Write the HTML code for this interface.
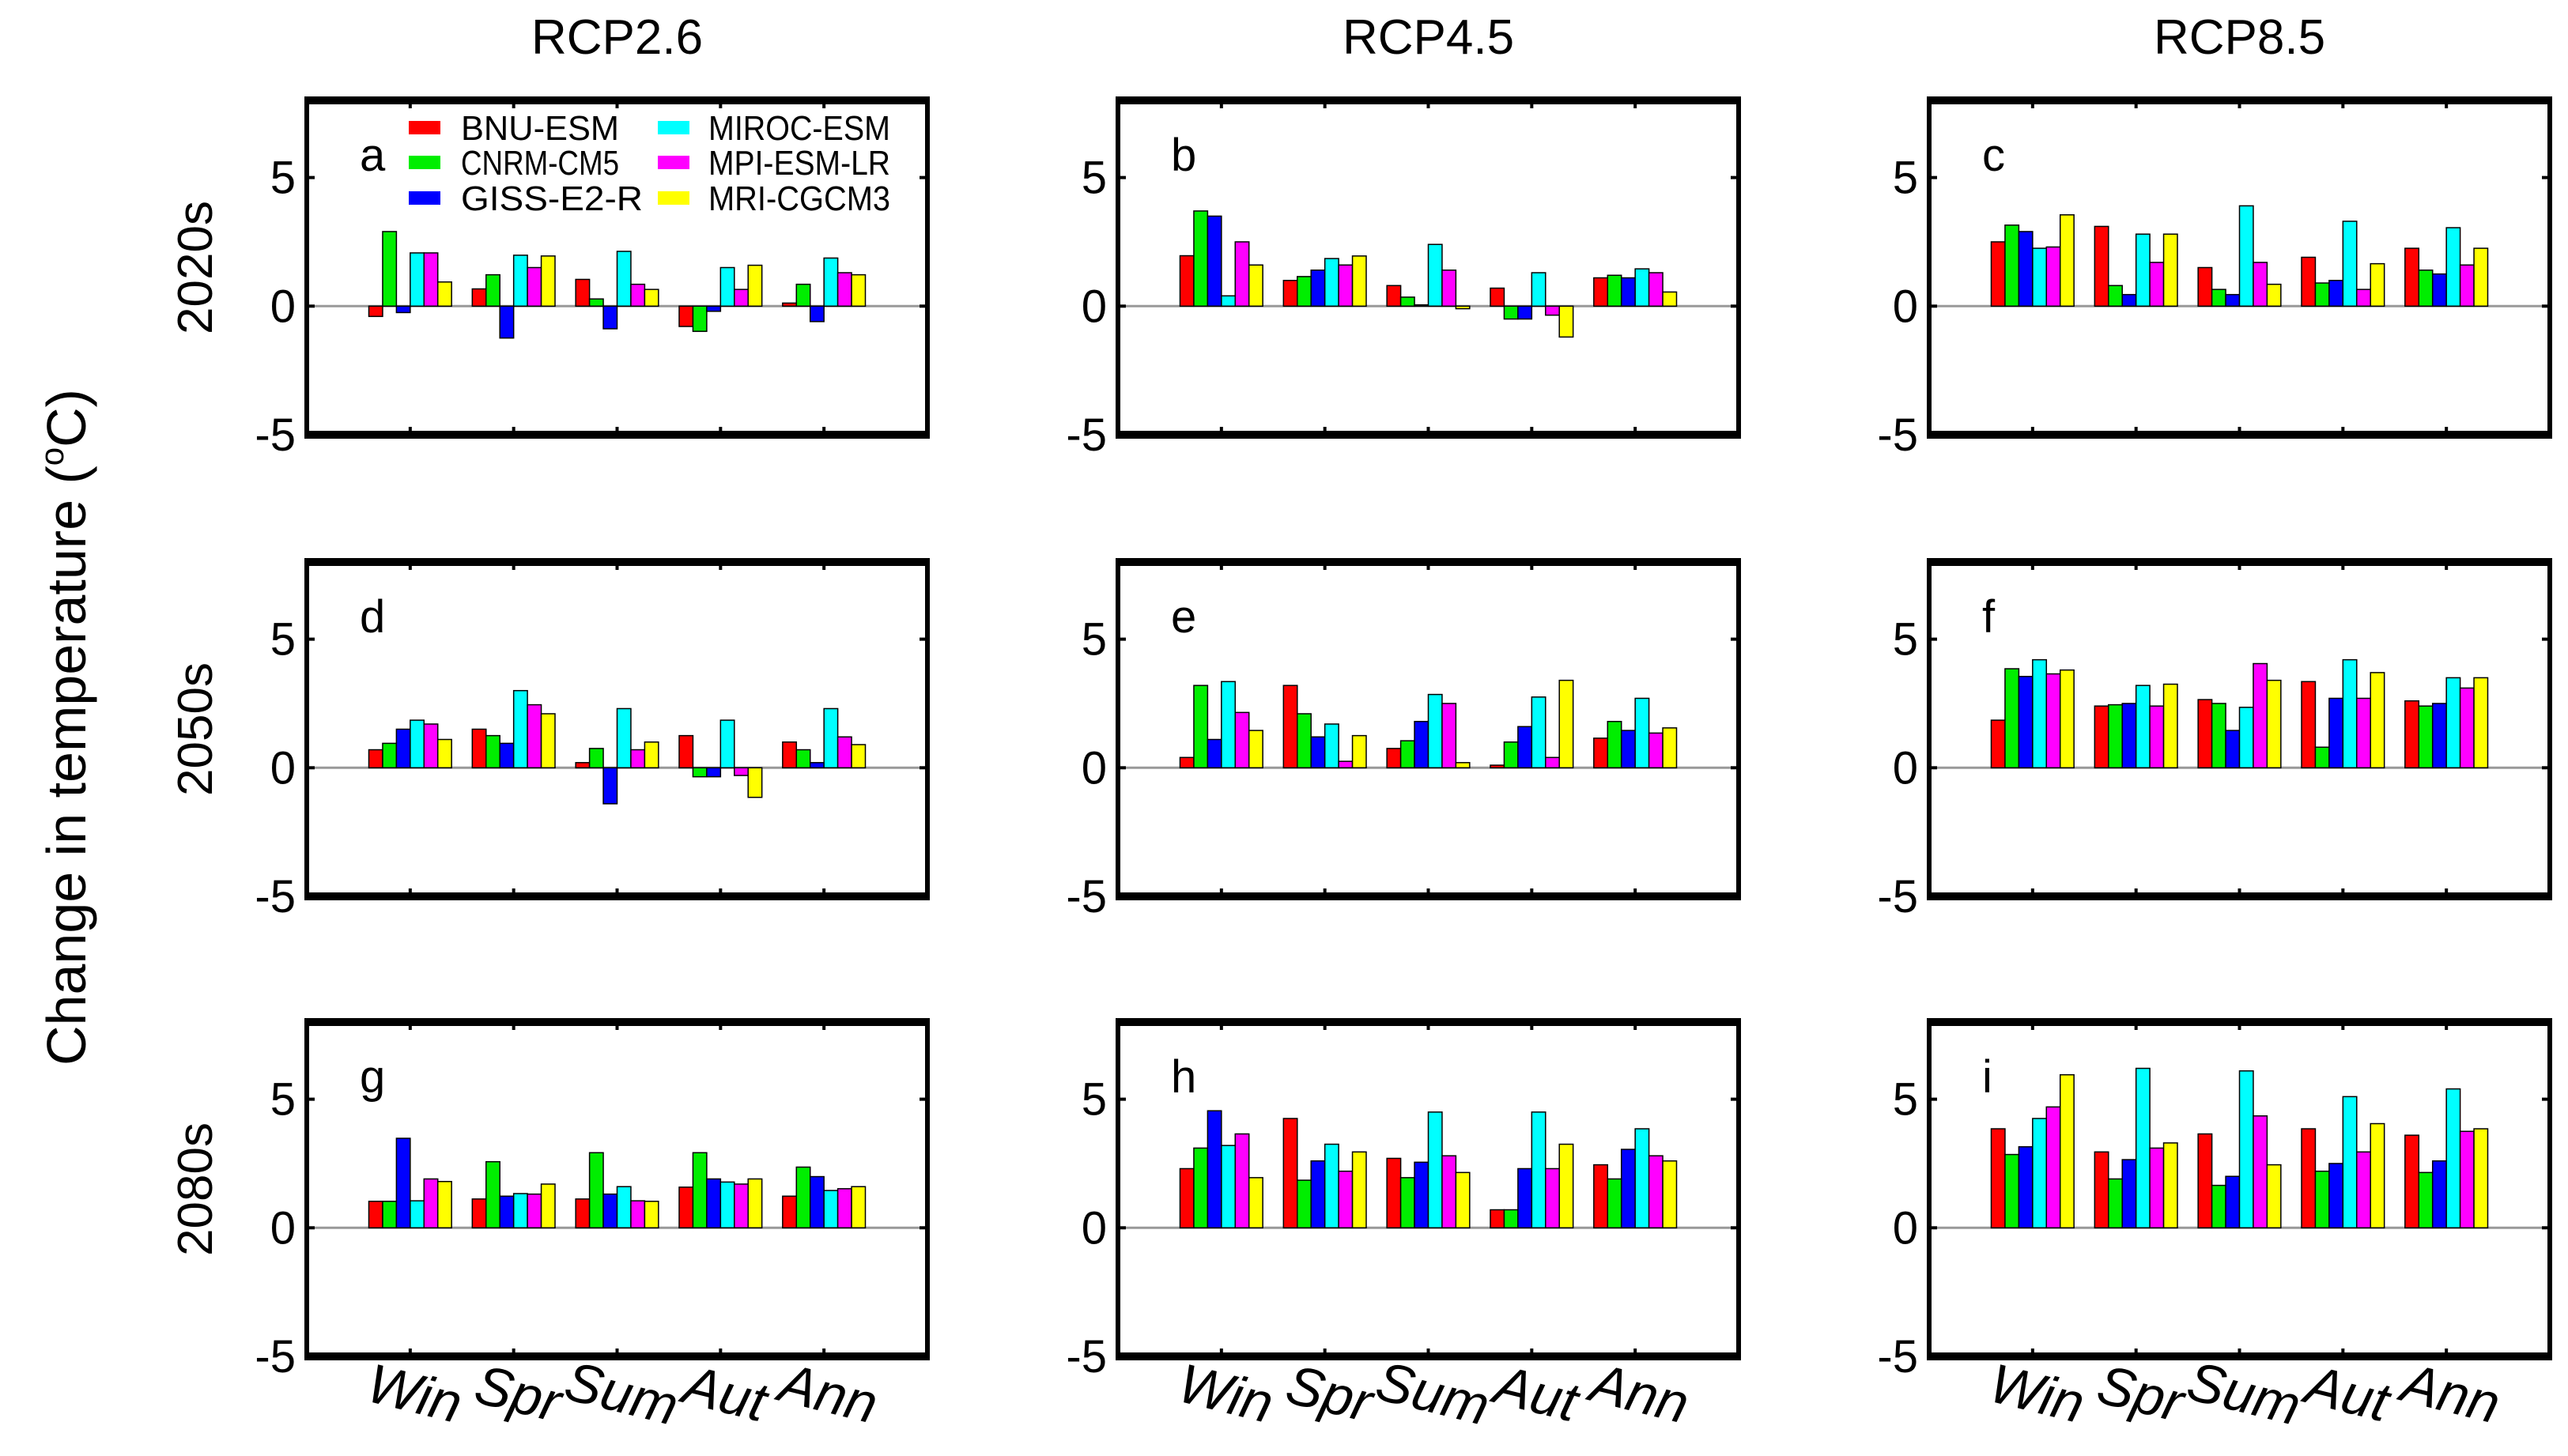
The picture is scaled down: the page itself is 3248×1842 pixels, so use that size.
<!DOCTYPE html>
<html><head><meta charset="utf-8"><style>
html,body{margin:0;padding:0;background:#fff;}
svg text{font-family:"Liberation Sans",sans-serif;}
</style></head><body>
<svg id="chart" width="3248" height="1837" viewBox="0 0 3248 1837" xmlns="http://www.w3.org/2000/svg">
<text x="0" y="0" transform="translate(108,920) rotate(-90)" text-anchor="middle" font-size="70">Change in temperature (<tspan font-size="42" dy="-28">o</tspan><tspan dy="28">C)</tspan></text>
<g id="panels"></g>
</svg>
<script>
const scenarios = ["RCP2.6","RCP4.5","RCP8.5"];
const periods = ["2020s","2050s","2080s"];
const seasons = ["Win","Spr","Sum","Aut","Ann"];
const models = ["BNU-ESM","CNRM-CM5","GISS-E2-R","MIROC-ESM","MPI-ESM-LR","MRI-CGCM3"];
const modelColors = ["#ff0000","#00ee00","#0000ff","#00ffff","#ff00ff","#ffff00"];
const yTicks = [5,0,-5];
const panelLetters = ["a","b","c","d","e","f","g","h","i"];
// values[season][model] per panel
const panelA = [[-0.4,2.9,-0.25,2.07,2.07,0.94],[0.67,1.22,-1.24,1.98,1.5,1.95],[1.04,0.28,-0.88,2.13,0.85,0.65],[-0.79,-0.98,-0.2,1.5,0.65,1.59],[0.12,0.85,-0.6,1.87,1.3,1.22]];
const panelB = [[1.96,3.7,3.5,0.4,2.5,1.6],[1.0,1.15,1.4,1.85,1.6,1.95],[0.8,0.35,0.05,2.4,1.4,-0.1],[0.7,-0.5,-0.5,1.3,-0.35,-1.2],[1.1,1.2,1.1,1.45,1.3,0.55]];
const panelC = [[2.5,3.15,2.9,2.25,2.3,3.55],[3.1,0.8,0.45,2.8,1.7,2.8],[1.5,0.65,0.45,3.9,1.7,0.85],[1.9,0.9,1.0,3.3,0.65,1.65],[2.25,1.4,1.25,3.05,1.6,2.25]];
const panelD = [[0.7,0.95,1.5,1.85,1.7,1.1],[1.5,1.25,0.95,3.0,2.45,2.1],[0.2,0.75,-1.4,2.3,0.7,1.0],[1.25,-0.35,-0.35,1.85,-0.3,-1.15],[1.0,0.7,0.2,2.3,1.2,0.9]];
const panelE = [[0.4,3.2,1.1,3.35,2.15,1.45],[3.2,2.1,1.2,1.7,0.25,1.25],[0.75,1.05,1.8,2.85,2.5,0.2],[0.1,1.0,1.6,2.75,0.4,3.4],[1.15,1.8,1.45,2.7,1.35,1.55]];
const panelF = [[1.85,3.85,3.55,4.2,3.65,3.8],[2.4,2.45,2.5,3.2,2.4,3.25],[2.65,2.5,1.45,2.35,4.05,3.4],[3.35,0.8,2.7,4.2,2.7,3.7],[2.6,2.4,2.5,3.5,3.1,3.5]];
const panelG = [[1.03,1.03,3.48,1.05,1.9,1.8],[1.12,2.57,1.23,1.33,1.31,1.7],[1.12,2.92,1.31,1.6,1.05,1.03],[1.58,2.92,1.9,1.78,1.7,1.9],[1.23,2.36,1.99,1.45,1.52,1.6]];
const panelH = [[2.3,3.1,4.55,3.2,3.65,1.95],[4.25,1.85,2.6,3.25,2.2,2.95],[2.7,1.95,2.55,4.5,2.8,2.15],[0.7,0.7,2.3,4.5,2.3,3.25],[2.45,1.9,3.05,3.85,2.8,2.6]];
const panelI = [[3.85,2.85,3.15,4.25,4.7,5.95],[2.95,1.9,2.65,6.2,3.1,3.3],[3.65,1.65,2.0,6.1,4.35,2.45],[3.85,2.2,2.5,5.1,2.95,4.05],[3.6,2.15,2.6,5.4,3.75,3.85]];
const panelData = [panelA,panelB,panelC,panelD,panelE,panelF,panelG,panelH,panelI];

const NS="http://www.w3.org/2000/svg";
const root=document.getElementById('panels');
const colLeft=[388,1414,2440], rowTop=[127,711,1293], PW=785, PH=423;
const yMin=-5,yMax=8,xMin=0,xMax=6;
function mk(tag,attrs,parent){const e=document.createElementNS(NS,tag);for(const k in attrs)e.setAttribute(k,attrs[k]);(parent||root).appendChild(e);return e;}

scenarios.forEach((s,c)=>{
  const t=mk('text',{x:colLeft[c]+PW/2,y:68,'text-anchor':'middle','font-size':62});
  
  
  t.textContent=s;
});
periods.forEach((p,r)=>{
  const cy=rowTop[r]+PH/2;
  const t=mk('text',{x:0,y:0,transform:`translate(268,${cy}) rotate(-90)`,'text-anchor':'middle','font-size':62});
  
  
  t.textContent=p;
});

for(let r=0;r<3;r++)for(let c=0;c<3;c++){
  const idx=r*3+c, L=colLeft[c], T=rowTop[r];
  const xs=v=>L+(v-xMin)/(xMax-xMin)*PW;
  const ys=v=>T+(yMax-v)/(yMax-yMin)*PH;
  const g=mk('g',{});
  
  
  // zero line
  const z=mk('line',{x1:L,x2:L+PW,y1:ys(0),y2:ys(0),stroke:'#999','stroke-width':3},g);
  
  
  // bars
  const gw=0.8, bw=gw/models.length;
  panelData[idx].forEach((row,si)=>{
    row.forEach((v,mi)=>{
      const x0=xs(si+1-gw/2+mi*bw);
      const y0=ys(Math.max(v,0)), y1=ys(Math.min(v,0));
      const b=mk('rect',{x:x0,y:y0,width:xs(bw)-xs(0),height:Math.max(y1-y0,1),fill:modelColors[mi],stroke:'#000','stroke-width':1.5},g);
      
      
    });
  });
  // frame
  const f=mk('rect',{x:L,y:T,width:PW,height:PH,fill:'none',stroke:'#000','stroke-width':6},g);
  
  
  mk('line',{x1:L-3,x2:L+PW+3,y1:T,y2:T,stroke:'#000','stroke-width':10},g);
  mk('line',{x1:L-3,x2:L+PW+3,y1:T+PH,y2:T+PH,stroke:'#000','stroke-width':10},g);
  // x ticks
  seasons.forEach((s,si)=>{
    const x=xs(si+1);
    mk('line',{x1:x,x2:x,y1:T,y2:T+10,stroke:'#000','stroke-width':4},g);
    mk('line',{x1:x,x2:x,y1:T+PH,y2:T+PH-10,stroke:'#000','stroke-width':4},g);
    if(r===2){
      const t=mk('text',{x:0,y:0,transform:`translate(${x},${T+PH+70}) rotate(14)`,'text-anchor':'middle','font-size':70,'font-style':'italic'},g);
      
      
      t.textContent=s;
    }
  });
  // y ticks
  yTicks.forEach(v=>{
    const y=ys(v);
    mk('line',{x1:L,x2:L+10,y1:y,y2:y,stroke:'#000','stroke-width':4},g);
    mk('line',{x1:L+PW,x2:L+PW-10,y1:y,y2:y,stroke:'#000','stroke-width':4},g);
    const t=mk('text',{x:L-14,y:y+20,'text-anchor':'end','font-size':58},g);
    
    
    t.textContent=v;
  });
  const lt=mk('text',{x:L+67,y:T+89,'font-size':58},g);
  
  
  lt.textContent=panelLetters[idx];
  if(idx===0){
    const lg=mk('g',{},g);
    
    
    models.forEach((m,mi)=>{
      const col=Math.floor(mi/3), rr=mi%3;
      const px=[517,832][col], tx=[583,896][col], cy=[161,205,250][rr];
      const e=mk('g',{},lg);
      
      
      mk('rect',{x:px,y:cy-8,width:40,height:17,fill:modelColors[mi]},e);
      const t=mk('text',{x:tx,y:cy+16,'font-size':44,textLength:m.length>8?230:200,lengthAdjust:'spacingAndGlyphs'},e);
      t.textContent=m;
    });
  }
}
</script>
</body></html>
